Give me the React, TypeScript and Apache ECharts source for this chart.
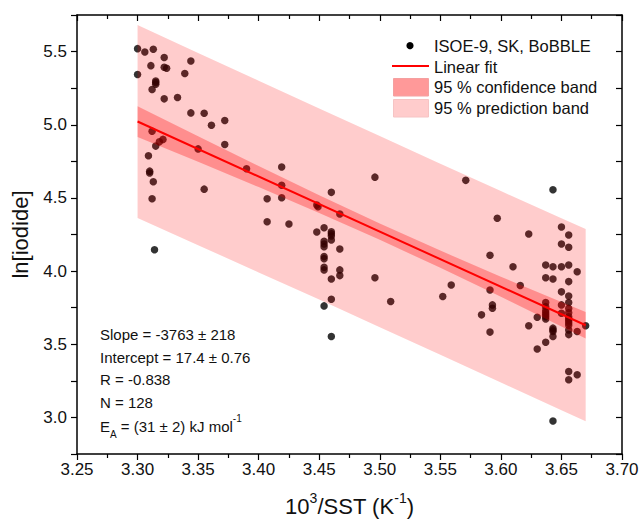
import React, { useEffect, useRef } from 'react';
import * as echarts from 'echarts';

// Observations: [10^3/SST (K^-1), ln[iodide]]
const points: [number, number][] = [
  [3.300, 5.520], [3.306, 5.497], [3.313, 5.516], [3.322, 5.459], [3.344, 5.436],
  [3.311, 5.404], [3.322, 5.393], [3.324, 5.386], [3.300, 5.343], [3.339, 5.350],
  [3.315, 5.299], [3.315, 5.277], [3.315, 5.288], [3.312, 5.241], [3.322, 5.177],
  [3.333, 5.186], [3.344, 5.081], [3.355, 5.079], [3.372, 5.029], [3.361, 4.997],
  [3.312, 4.956], [3.321, 4.900], [3.318, 4.883], [3.315, 4.854], [3.350, 4.835],
  [3.372, 4.865], [3.390, 4.699], [3.309, 4.788], [3.310, 4.683], [3.310, 4.670],
  [3.313, 4.610], [3.355, 4.560], [3.312, 4.494], [3.314, 4.146],
  [3.419, 4.711], [3.419, 4.586], [3.407, 4.494], [3.419, 4.501], [3.460, 4.538],
  [3.448, 4.451], [3.449, 4.440], [3.467, 4.390], [3.496, 4.642], [3.407, 4.337],
  [3.425, 4.322], [3.448, 4.267], [3.454, 4.296], [3.460, 4.269], [3.460, 4.240],
  [3.460, 4.213], [3.460, 4.255], [3.454, 4.204], [3.454, 4.185], [3.454, 4.167],
  [3.467, 4.151], [3.454, 4.099], [3.454, 4.085], [3.454, 4.026], [3.454, 4.008],
  [3.467, 4.008], [3.467, 3.969], [3.460, 3.946], [3.496, 3.955], [3.460, 3.808],
  [3.509, 3.792], [3.454, 3.762], [3.460, 3.553], [3.571, 4.620],
  [3.552, 3.826], [3.559, 3.905], [3.643, 4.556], [3.597, 4.361], [3.623, 4.253],
  [3.591, 4.108], [3.610, 4.030], [3.650, 4.301], [3.656, 4.247], [3.650, 4.185],
  [3.656, 4.163], [3.637, 4.042], [3.643, 4.030], [3.650, 4.030], [3.656, 4.042],
  [3.663, 3.996], [3.637, 3.955], [3.643, 3.946], [3.656, 3.928], [3.616, 3.901],
  [3.591, 3.871], [3.650, 3.858], [3.656, 3.830], [3.593, 3.769], [3.593, 3.746],
  [3.637, 3.785], [3.637, 3.757], [3.637, 3.730], [3.637, 3.715], [3.637, 3.701],
  [3.637, 3.688], [3.637, 3.673], [3.650, 3.769], [3.650, 3.712], [3.656, 3.785],
  [3.656, 3.745], [3.656, 3.715], [3.656, 3.688], [3.656, 3.673], [3.656, 3.660],
  [3.656, 3.645], [3.656, 3.630], [3.656, 3.598], [3.656, 3.566], [3.670, 3.626],
  [3.663, 3.587], [3.630, 3.685], [3.623, 3.626], [3.643, 3.610], [3.643, 3.598],
  [3.643, 3.587], [3.643, 3.553], [3.637, 3.514], [3.630, 3.467], [3.656, 3.314],
  [3.656, 3.257], [3.663, 3.291], [3.643, 2.976], [3.584, 3.701], [3.591, 3.583],
];

// Linear fit end points
const fitX = [3.30, 3.67];
const fitY = [5.022, 3.630];

// Bands
const bandX = [3.30, 3.35, 3.40, 3.45, 3.50, 3.55, 3.60, 3.65, 3.67];
const confUpper = [5.127, 4.921, 4.718, 4.519, 4.326, 4.140, 3.962, 3.788, 3.721];
const confLower = [4.917, 4.747, 4.574, 4.397, 4.214, 4.022, 3.824, 3.622, 3.539];
const predUpper = [5.681, 5.491, 5.301, 5.111, 4.923, 4.734, 4.547, 4.361, 4.287];
const predLower = [4.363, 4.177, 3.991, 3.805, 3.617, 3.428, 3.239, 3.049, 2.973];

const legendLabels = ['ISOE-9, SK, BoBBLE', 'Linear fit', '95 % confidence band', '95 % prediction band'];
const statLines = ['Slope = -3763 ± 218', 'Intercept = 17.4 ± 0.76', 'R = -0.838', 'N = 128'];

const FONT = '"Liberation Sans", Arial, Helvetica, sans-serif';
const TXT = '#111';

function bandSeries(lower: number[], upper: number[], fill: string, z: number) {
  return {
    type: 'custom',
    silent: true,
    z,
    data: bandX.map((x, i) => [x, lower[i], upper[i]]),
    encode: { x: 0, y: [1, 2] },
    renderItem: (params: any, api: any) => {
      if (params.dataIndexInside !== 0) return null;
      const pts: number[][] = [];
      for (let i = 0; i < bandX.length; i++) pts.push(api.coord([bandX[i], upper[i]]));
      for (let i = bandX.length - 1; i >= 0; i--) pts.push(api.coord([bandX[i], lower[i]]));
      return { type: 'polygon', shape: { points: pts }, style: { fill, stroke: 'none' } };
    },
  };
}

export default function App() {
  const ref = useRef<HTMLDivElement>(null);
  useEffect(() => {
    if (!ref.current) return;
    const chart = echarts.init(ref.current, undefined, { renderer: 'svg' });
    const axisLine = { show: true, onZero: false, lineStyle: { color: '#000', width: 1.5 } };
    const tickStyle = { color: '#000', width: 1.2 };
    const xCommon = {
      type: 'value', min: 3.25, max: 3.70, interval: 0.05,
      axisLine, splitLine: { show: false }, minorSplitLine: { show: false },
      minorTick: { show: true, splitNumber: 2, length: 4, lineStyle: tickStyle },
    };
    const yCommon = {
      type: 'value', min: 2.75, max: 5.75, interval: 0.25,
      axisLine, splitLine: { show: false },
    };
    const isHalf = (v: number) => Math.abs(v * 2 - Math.round(v * 2)) < 1e-6;

    const graphic: any[] = [];
    // Legend
    graphic.push({ type: 'circle', shape: { cx: 410, cy: 45.7, r: 3.6 }, style: { fill: '#000' } });
    graphic.push({ type: 'line', shape: { x1: 392, y1: 66, x2: 429, y2: 66 }, style: { stroke: '#ff0000', lineWidth: 2 } });
    graphic.push({ type: 'rect', shape: { x: 393.5, y: 78.5, width: 35, height: 17.5 }, style: { fill: '#ff9999', stroke: '#f4a0a0', lineWidth: 1 } });
    graphic.push({ type: 'rect', shape: { x: 393.5, y: 99.5, width: 35, height: 17.5 }, style: { fill: '#ffcccc', stroke: '#f6c4c4', lineWidth: 1 } });
    const legY = [45.7, 66.5, 87, 107.5];
    legendLabels.forEach((t, i) => {
      graphic.push({ type: 'text', x: 434, y: legY[i], style: { text: t, fontSize: 16.5, fontFamily: FONT, fill: TXT, textAlign: 'left', textVerticalAlign: 'middle' } });
    });
    // Statistics
    const statY = [334.5, 357, 379.5, 402];
    statLines.forEach((t, i) => {
      graphic.push({ type: 'text', x: 100, y: statY[i], style: { text: t, fontSize: 15, fontFamily: FONT, fill: TXT, textAlign: 'left', textVerticalAlign: 'middle' } });
    });
    graphic.push({
      type: 'text', x: 100, y: 426,
      style: {
        text: '{m|E}{b|A}{m| = (31 ± 2) kJ mol}{p|-1}',
        textAlign: 'left', textVerticalAlign: 'middle', fill: TXT, fontFamily: FONT,
        rich: {
          m: { fontSize: 15, lineHeight: 26, fontFamily: FONT, fill: TXT },
          b: { fontSize: 10, lineHeight: 10, verticalAlign: 'bottom', fontFamily: FONT, fill: TXT },
          p: { fontSize: 10, lineHeight: 22, verticalAlign: 'top', fontFamily: FONT, fill: TXT },
        },
      },
    });

    chart.setOption({
      animation: false,
      backgroundColor: '#fff',
      grid: { left: 77, right: 21, top: 15, bottom: 71, containLabel: false },
      xAxis: [
        {
          ...xCommon, position: 'bottom',
          axisTick: { show: true, inside: false, length: 6, lineStyle: tickStyle },
          axisLabel: { fontSize: 17, color: TXT, fontFamily: FONT, margin: 7, formatter: (v: number) => v.toFixed(2) },
          name: '{n|10}{s|3}{n|/SST (K}{s|-1}{n|)}',
          nameLocation: 'middle', nameGap: 37,
          nameTextStyle: {
            color: TXT, fontFamily: FONT,
            rich: {
              n: { fontSize: 22, lineHeight: 30, fontFamily: FONT, color: TXT },
              s: { fontSize: 14, lineHeight: 18, verticalAlign: 'top', fontFamily: FONT, color: TXT },
            },
          },
        },
        {
          ...xCommon, position: 'top',
          axisTick: { show: true, inside: true, length: 6, lineStyle: tickStyle },
          axisLabel: { show: false },
        },
      ],
      yAxis: [
        {
          ...yCommon, position: 'left',
          axisTick: { show: true, inside: false, length: 6, lineStyle: tickStyle },
          axisLabel: { fontSize: 17, color: TXT, fontFamily: FONT, margin: 10, formatter: (v: number) => (isHalf(v) && v > 2.8 && v < 5.7 ? v.toFixed(1) : '') },
          name: 'ln[iodide]', nameLocation: 'middle', nameGap: 46, nameRotate: 90,
          nameTextStyle: { fontSize: 22, color: TXT, fontFamily: FONT },
        },
        {
          ...yCommon, position: 'right',
          axisTick: { show: true, inside: true, length: 6, lineStyle: tickStyle },
          axisLabel: { show: false },
        },
      ],
      series: [
        { type: 'scatter', data: points, symbol: 'circle', symbolSize: 7.5, itemStyle: { color: '#000' }, z: 2, silent: true },
        bandSeries(predLower, predUpper, 'rgba(255,0,0,0.2)', 3),
        bandSeries(confLower, confUpper, 'rgba(255,0,0,0.3)', 4),
        {
          type: 'line', data: fitX.map((x, i) => [x, fitY[i]]), showSymbol: false, symbol: 'none',
          lineStyle: { color: '#ff0000', width: 2 }, z: 5, silent: true,
        },
      ],
      graphic,
    });
    return () => chart.dispose();
  }, []);
  return <div ref={ref} style={{ position: 'fixed', left: 0, top: 0, width: 643, height: 525, background: '#fff' }} />;
}
